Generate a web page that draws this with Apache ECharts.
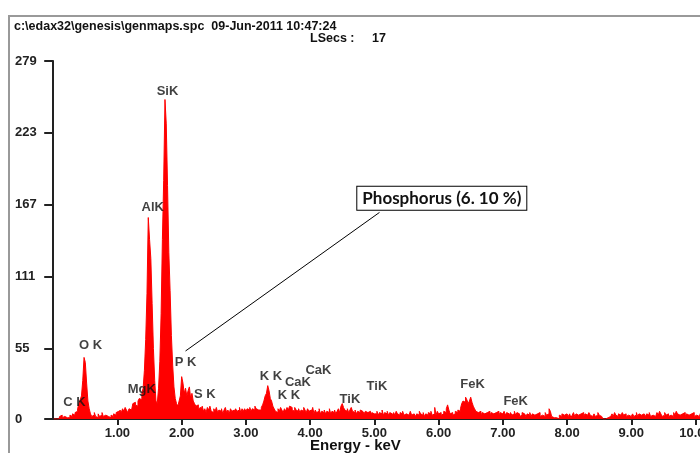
<!DOCTYPE html>
<html><head><meta charset="utf-8">
<script src="https://cdn.jsdelivr.net/npm/echarts@6/dist/echarts.min.js"></script>
<style>html,body{margin:0;padding:0;background:#fff}</style>
</head><body>
<div id="c" style="width:700px;height:453px"></div>
<script>
// Channel width (keV) of the spectrum bins
const binWidth = 0.02;
// Counts per 0.02 keV bin
const counts_0_1 = [0,0,0,0,0,2,3,1,2,3, 1,2,1,3,2,4,3,5,6,8, 12,15,18,30,48,44,28,14,8,4, 2,3,5,2,1,4,2,3,5,2, 3,4,2,3,1,3,2,4,3,5];
const counts_1_2 = [6,4,7,5,8,6,9,7,5,8, 7,6,12,13,11,10,14,16,15,20, 24,38,62,98,157,140,125,90,55,30, 14,12,24,45,82,140,186,249,230,182, 130,100,65,42,25,16,12,10,14,18];
const counts_2_3 = [33,28,20,24,18,22,25,16,20,14, 12,10,11,8,9,7,10,6,8,5, 9,7,10,6,5,8,6,9,5,7, 6,8,4,7,9,5,7,4,8,6, 7,5,8,6,7,9,5,8,6,8];
const counts_3_4 = [6,8,7,9,6,8,7,10,8,7, 8,7,9,11,14,18,20,26,22,16, 14,10,8,6,5,8,6,9,7,5, 8,6,9,7,10,9,7,6,9,7, 6,8,5,7,6,9,7,5,8,6];
const counts_4_5 = [7,5,9,4,7,5,6,8,4,6, 5,7,4,6,5,8,4,6,5,7, 4,6,8,5,10,12,9,7,6,8, 5,7,9,6,5,7,4,6,5,7, 6,5,4,6,5,4,6,3,5,4];
const counts_5_6 = [5,4,6,3,5,4,7,3,5,4, 6,3,5,4,2,5,3,6,4,3, 5,4,6,3,4,5,3,4,6,3, 4,5,2,4,3,6,4,3,5,2, 4,3,5,4,6,3,4,9,3,6];
const counts_6_7 = [4,5,3,4,6,5,8,11,7,4, 5,3,4,6,5,7,6,8,12,14, 13,17,15,12,14,17,13,10,8,6, 5,4,6,3,5,4,3,5,4,6, 3,5,4,3,5,4,6,3,5,4];
const counts_7_8 = [4,6,3,5,4,2,5,3,4,6, 3,5,4,2,3,5,4,3,2,4, 3,5,2,4,3,2,4,3,5,2, 3,4,2,5,3,4,8,6,2,1, 0,1,2,0,3,2,4,3,2,4];
const counts_8_9 = [3,2,4,1,3,5,2,4,3,2, 4,3,5,2,4,3,2,5,3,2, 3,4,2,3,5,3,2,1,0,0, 0,1,0,2,3,4,2,5,3,2, 4,3,2,5,3,4,2,3,4,2];
const counts_9_10 = [3,4,2,3,5,2,4,3,2,4, 3,2,4,3,5,2,3,4,2,3, 5,3,6,4,2,3,5,3,4,2, 3,4,2,5,3,6,4,3,2,4, 3,5,2,4,3,2,4,3,5,2, 3,4,2,3,5];

// Axis ticks
const xTickValues = [1,2,3,4,5,6,7,8,9,10];
const yTickValues = [0,55,111,167,223,279];

// Peak labels: [text, energy keV, counts]
const peakLabels = [
  ['C K', 0.33, 13],
  ['O K', 0.58, 57],
  ['MgK', 1.38, 23],
  ['AlK', 1.55, 165],
  ['SiK', 1.78, 255],
  ['P K', 2.06, 44],
  ['S K', 2.36, 19],
  ['K K', 3.39, 33],
  ['CaK', 3.81, 28.6],
  ['K K', 3.67, 18.7],
  ['CaK', 4.13, 38],
  ['TiK', 4.62, 15],
  ['TiK', 5.04, 25.7],
  ['FeK', 6.53, 27.3],
  ['FeK', 7.20, 14]
];

const headerLine1 = 'c:\\edax32\\genesis\\genmaps.spc  09-Jun-2011 10:47:24';
const headerLine2a = 'LSecs :';
const headerLine2b = '17';
const calloutText = 'Phosphorus (6. 10 %)';
const calloutTip = [2.06, 53];
const calloutTail = [5.08, 161];
const calloutBox = [6.05, 172];

const counts = [].concat(counts_0_1, counts_1_2, counts_2_3, counts_3_4, counts_4_5,
  counts_5_6, counts_6_7, counts_7_8, counts_8_9, counts_9_10);
const spectrum = counts.map((c, i) => [(i + 0.5) * binWidth, c]);

const F = '"Liberation Sans", Arial, sans-serif';
const axisColor = '#222';

const chart = echarts.init(document.getElementById('c'), null, {renderer: 'canvas'});
chart.setOption({
  animation: false,
  backgroundColor: '#fff',
  grid: {left: 50, right: 0, top: 61, bottom: 34, containLabel: false, outerBoundsMode: 'none'},
  xAxis: {
    type: 'value', min: -0.05, max: 10.07,
    axisLine: {show: true, lineStyle: {color: axisColor, width: 2}},
    axisTick: {show: true, customValues: xTickValues, length: 6, inside: false, lineStyle: {color: axisColor, width: 2}},
    axisLabel: {customValues: xTickValues, formatter: v => v.toFixed(2), fontFamily: F, fontWeight: 'bold', fontSize: 13, color: axisColor, margin: 8, hideOverlap: false},
    splitLine: {show: false}
  },
  yAxis: {
    type: 'value', min: 0, max: 279,
    axisLine: {show: true, lineStyle: {color: axisColor, width: 2}},
    axisTick: {show: true, customValues: yTickValues, length: 9, lineStyle: {color: axisColor, width: 2}},
    axisLabel: {customValues: yTickValues, formatter: v => String(v), align: 'left', margin: 35, fontFamily: F, fontWeight: 'bold', fontSize: 13, color: axisColor},
    splitLine: {show: false}
  },
  series: [
    {
      type: 'line', data: spectrum, step: 'middle', symbol: 'none', clip: true,
      lineStyle: {color: '#ff0000', width: 1},
      areaStyle: {color: '#ff0000', opacity: 1},
      z: 2,
      markLine: {
        silent: true, symbol: ['none', 'none'],
        lineStyle: {color: '#000', width: 1, type: 'solid'},
        label: {show: false},
        data: [[{coord: calloutTip}, {coord: calloutTail}]]
      },
      markPoint: {
        silent: true, symbol: 'rect', symbolSize: 0,
        data: [{coord: calloutBox, value: calloutText}],
        label: {
          show: true, position: 'inside', formatter: calloutText,
          fontFamily: 'Lato, "Open Sans", sans-serif', fontWeight: 'bold', fontSize: 17, color: '#111',
          backgroundColor: '#fff', borderColor: '#000', borderWidth: 1, padding: [3, 5, 3, 5]
        }
      }
    },
    {
      type: 'scatter', symbolSize: 0, z: 3, silent: true,
      data: peakLabels.map(p => ({value: [p[1], p[2]], name: p[0]})),
      label: {show: true, position: 'inside', formatter: p => p.name, fontFamily: F, fontWeight: 'bold', fontSize: 13, color: '#111'}
    }
  ],
  graphic: [
    {type: 'rect', shape: {x: 9, y: 16, width: 900, height: 600}, style: {fill: 'none', stroke: '#999', lineWidth: 2}, silent: true, z: 10},
    {type: 'text', left: 14, top: 20, style: {text: headerLine1, font: 'bold 12.5px ' + F, fill: '#111'}, z: 10},
    {type: 'text', left: 310, top: 32, style: {text: headerLine2a, font: 'bold 12.5px ' + F, fill: '#111'}, z: 10},
    {type: 'text', left: 372, top: 32, style: {text: headerLine2b, font: 'bold 12.5px ' + F, fill: '#111'}, z: 10},
    {type: 'text', left: 310, top: 438, style: {text: 'Energy - keV', font: 'bold 15px ' + F, fill: '#111'}, z: 10}
  ]
});
</script>
</body></html>
